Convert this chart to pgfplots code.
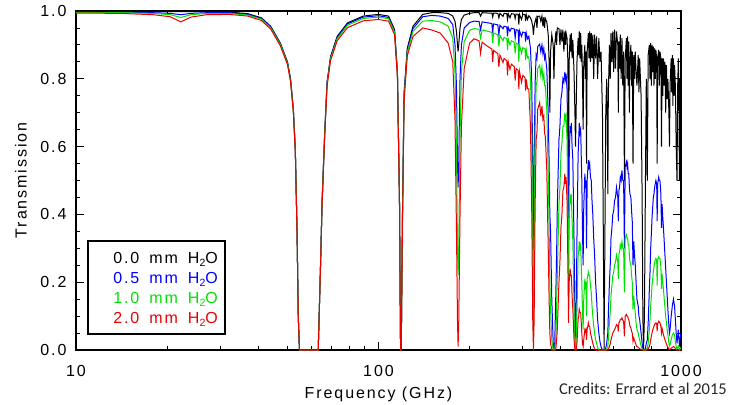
\documentclass[border=0pt]{standalone}
\usepackage{pgfplots}
\pgfplotsset{compat=1.18}
\usepackage{pgfplotstable}
\usepackage{fontspec}
\setmainfont{Liberation Sans}[LetterSpace=12]
\newfontfamily\credfont{Carlito}
\definecolor{cblue}{RGB}{0,0,255}
\definecolor{cgreen}{RGB}{0,225,0}
\definecolor{cred}{RGB}{235,0,0}
\newcommand{\htwoo}{H\raisebox{-3pt}{\fontsize{10.5}{10.5}\selectfont 2}O}
\begin{document}
\pgfplotstableread{
f a b g r
10 0.998 0.997 0.996 0.994
14 0.998 0.997 0.995 0.993
18 0.998 0.995 0.993 0.989
20.5 0.998 0.993 0.989 0.983
22.2 0.998 0.989 0.981 0.968
24 0.998 0.993 0.989 0.982
27 0.998 0.995 0.993 0.989
32 0.997 0.995 0.993 0.990
37 0.992 0.990 0.988 0.985
41 0.980 0.978 0.976 0.972
44 0.955 0.953 0.951 0.947
47.4 0.905 0.903 0.901 0.897
50 0.850 0.848 0.846 0.842
51.2 0.800 0.798 0.796 0.792
52.3 0.710 0.708 0.706 0.702
53.1 0.590 0.588 0.586 0.582
53.8 0.350 0.348 0.346 0.342
54.3 0.100 0.099 0.098 0.096
54.8 0 0 0 0
63.2 0 0 0 0
64.3 0.245 0.244 0.243 0.240
65.1 0.440 0.438 0.436 0.432
66.4 0.640 0.638 0.636 0.631
67.6 0.790 0.787 0.784 0.778
69.4 0.865 0.862 0.859 0.853
73 0.925 0.922 0.918 0.912
79 0.965 0.962 0.958 0.951
89 0.985 0.982 0.978 0.971
100 0.990 0.986 0.982 0.975
108 0.985 0.981 0.977 0.970
113 0.945 0.941 0.937 0.930
115.5 0.820 0.816 0.812 0.805
117.3 0.450 0.446 0.442 0.435
118.3 0 0 0 0
118.9 0 0 0 0
120 0.400 0.392 0.384 0.370
121.5 0.760 0.752 0.745 0.735
124.5 0.890 0.884 0.878 0.868
130 0.955 0.948 0.940 0.925
140 0.990 0.983 0.970 0.950
150 0.995 0.987 0.972 0.944
160 0.995 0.985 0.968 0.935
170 0.993 0.978 0.955 0.905
176 0.985 0.960 0.920 0.850
179 0.970 0.900 0.820 0.680
181 0.940 0.780 0.600 0.360
182.5 0.900 0.550 0.300 0.080
183.3 0.880 0.480 0.220 0.010
184.2 0.900 0.550 0.300 0.080
186 0.950 0.800 0.630 0.400
188 0.975 0.900 0.820 0.660
192 0.988 0.950 0.910 0.830
200 0.993 0.966 0.943 0.905
207 0.995 0.970 0.948 0.918
215 0.995 0.969 0.946 0.912
217.5 0.985 0.945 0.920 0.875
220 0.995 0.968 0.944 0.908
230 0.994 0.965 0.940 0.895
237 0.994 0.963 0.937 0.888
238.5 0.982 0.935 0.905 0.850
240 0.994 0.962 0.935 0.884
248 0.993 0.959 0.930 0.874
250 0.980 0.930 0.895 0.835
252 0.993 0.958 0.928 0.870
258 0.984 0.948 0.912 0.848
260 0.993 0.955 0.922 0.860
265.5 0.992 0.953 0.919 0.853
267 0.975 0.925 0.885 0.810
268.5 0.992 0.952 0.917 0.850
272 0.980 0.940 0.900 0.828
275 0.992 0.949 0.912 0.843
281 0.991 0.947 0.908 0.836
283 0.978 0.920 0.875 0.795
285 0.991 0.945 0.905 0.830
289.5 0.990 0.943 0.902 0.825
291 0.960 0.900 0.850 0.770
292.5 0.990 0.942 0.900 0.822
297 0.975 0.925 0.875 0.790
300 0.990 0.938 0.892 0.810
305 0.989 0.936 0.888 0.803
306.5 0.970 0.910 0.855 0.765
308 0.989 0.935 0.885 0.798
311 0.975 0.918 0.862 0.770
314 0.986 0.925 0.865 0.770
318 0.980 0.890 0.800 0.660
321 0.970 0.800 0.650 0.420
323.5 0.955 0.550 0.300 0.090
325.2 0.930 0.220 0.040 0.000
327 0.955 0.550 0.300 0.090
329.5 0.970 0.790 0.650 0.430
332 0.980 0.870 0.780 0.620
334 0.950 0.860 0.790 0.640
336 0.984 0.895 0.830 0.710
341 0.985 0.902 0.840 0.730
344 0.970 0.880 0.810 0.690
347 0.985 0.900 0.835 0.720
349.5 0.955 0.875 0.800 0.680
352 0.982 0.890 0.815 0.690
354 0.950 0.860 0.780 0.640
356 0.978 0.870 0.780 0.630
360 0.968 0.830 0.710 0.530
364 0.930 0.700 0.520 0.300
366.5 0.850 0.550 0.360 0.150
368.5 0.700 0.400 0.200 0.050
370.5 0.880 0.350 0.120 0.020
374 0.930 0.150 0.030 0.000
378 0.900 0.020 0.000 0.000
380.2 0.800 0.000 0.000 0.000
382.5 0.900 0.020 0.000 0.000
386 0.940 0.180 0.040 0.005
388 0.900 0.280 0.120 0.030
390 0.950 0.420 0.220 0.060
395 0.948 0.620 0.430 0.200
398 0.900 0.660 0.480 0.260
401 0.946 0.740 0.580 0.360
404 0.910 0.760 0.610 0.400
407 0.945 0.800 0.660 0.470
410 0.880 0.790 0.660 0.480
413 0.940 0.820 0.700 0.520
415 0.900 0.800 0.680 0.490
417 0.935 0.815 0.690 0.510
420 0.920 0.770 0.620 0.440
422.8 0.850 0.600 0.420 0.250
424.8 0.500 0.250 0.150 0.080
426.8 0.850 0.560 0.380 0.200
430 0.930 0.660 0.460 0.240
432 0.880 0.640 0.440 0.220
434 0.935 0.670 0.450 0.220
436.5 0.860 0.600 0.380 0.160
439 0.915 0.560 0.320 0.120
443 0.820 0.320 0.120 0.030
446 0.700 0.100 0.020 0.000
448 0.600 0.030 0.000 0.000
450 0.700 0.100 0.020 0.000
453 0.850 0.330 0.110 0.020
457 0.920 0.580 0.280 0.090
459 0.870 0.620 0.290 0.100
461 0.940 0.670 0.320 0.120
463.5 0.860 0.640 0.300 0.110
466 0.935 0.650 0.310 0.110
468 0.850 0.570 0.250 0.080
470 0.900 0.500 0.200 0.050
472.5 0.800 0.350 0.110 0.020
474.7 0.650 0.250 0.060 0.010
477 0.840 0.420 0.150 0.030
481 0.900 0.520 0.210 0.060
483 0.800 0.490 0.190 0.055
485 0.880 0.500 0.200 0.060
487.2 0.550 0.300 0.100 0.030
489.5 0.880 0.500 0.210 0.060
494 0.935 0.560 0.230 0.080
496.5 0.860 0.540 0.220 0.070
499 0.940 0.550 0.220 0.070
502 0.850 0.510 0.190 0.050
505 0.935 0.500 0.170 0.040
508 0.860 0.440 0.130 0.030
511 0.930 0.400 0.100 0.020
514.5 0.800 0.330 0.070 0.010
518 0.930 0.280 0.050 0.005
522 0.860 0.200 0.030 0.000
526 0.925 0.150 0.020 0.000
530 0.800 0.090 0.008 0.000
535 0.920 0.050 0.000 0.000
539.5 0.850 0.025 0.000 0.000
544 0.880 0.010 0.000 0.000
550 0.700 0.000 0.000 0.000
554 0.300 0 0 0
556.9 0 0 0 0
560 0.300 0 0 0
564 0.700 0.005 0 0
568 0.800 0.020 0.003 0
571 0.650 0.040 0.008 0
573 0.460 0.050 0.010 0
575 0.750 0.100 0.030 0.002
580 0.900 0.200 0.080 0.010
583.5 0.800 0.250 0.110 0.018
587 0.935 0.330 0.160 0.030
591 0.850 0.360 0.190 0.040
595 0.940 0.400 0.220 0.050
599 0.820 0.410 0.230 0.055
603 0.945 0.440 0.250 0.060
607.5 0.830 0.450 0.260 0.066
612 0.940 0.480 0.280 0.075
618 0.900 0.450 0.260 0.070
620.7 0.700 0.380 0.210 0.055
623 0.910 0.470 0.280 0.080
626.5 0.830 0.480 0.290 0.083
630 0.930 0.510 0.310 0.090
634 0.800 0.500 0.300 0.090
638 0.920 0.530 0.320 0.095
642 0.780 0.500 0.300 0.088
646 0.880 0.500 0.300 0.085
650 0.500 0.300 0.170 0.040
654 0.860 0.540 0.330 0.100
660 0.920 0.555 0.340 0.105
663 0.800 0.540 0.330 0.100
666 0.925 0.550 0.330 0.100
669 0.780 0.520 0.310 0.092
672 0.910 0.520 0.310 0.090
675 0.700 0.480 0.280 0.080
678 0.850 0.460 0.260 0.070
683 0.900 0.450 0.250 0.065
686.5 0.780 0.410 0.220 0.055
690 0.880 0.380 0.200 0.050
694 0.550 0.250 0.120 0.025
698 0.870 0.320 0.160 0.035
702 0.800 0.280 0.130 0.028
706 0.880 0.250 0.110 0.022
710.5 0.820 0.200 0.080 0.015
715 0.780 0.150 0.060 0.010
722 0.870 0.130 0.050 0.008
726 0.760 0.100 0.038 0.006
730 0.860 0.090 0.030 0.004
738 0.750 0.050 0.012 0.001
744 0.450 0.020 0.003 0
748 0.100 0.003 0 0
752 0 0 0 0
757 0.100 0 0 0
763 0.500 0.005 0 0
768 0.800 0.020 0.003 0
773.8 0.500 0.030 0.005 0
779 0.870 0.080 0.020 0.003
786 0.900 0.180 0.060 0.010
790 0.800 0.230 0.090 0.018
794 0.905 0.300 0.130 0.030
798 0.780 0.340 0.160 0.040
802 0.900 0.390 0.190 0.050
806 0.820 0.420 0.210 0.058
810 0.895 0.450 0.230 0.065
814 0.780 0.460 0.245 0.070
818 0.890 0.480 0.260 0.075
822 0.800 0.490 0.265 0.078
826 0.885 0.500 0.270 0.080
831 0.860 0.490 0.265 0.078
834 0.550 0.380 0.190 0.055
837 0.860 0.490 0.265 0.078
844 0.885 0.510 0.275 0.085
848 0.780 0.500 0.270 0.082
852 0.880 0.500 0.270 0.080
858 0.860 0.460 0.245 0.070
862 0.600 0.360 0.180 0.050
866 0.860 0.430 0.225 0.063
870.5 0.750 0.390 0.200 0.054
875 0.860 0.360 0.180 0.045
880 0.780 0.320 0.150 0.037
885 0.850 0.280 0.125 0.030
890 0.700 0.240 0.100 0.024
895 0.840 0.200 0.080 0.018
900 0.740 0.160 0.060 0.012
905 0.800 0.120 0.045 0.008
912 0.700 0.070 0.020 0.003
916 0.600 0.050 0.012 0.001
920 0.780 0.060 0.015 0.002
928 0.860 0.100 0.030 0.005
932 0.760 0.115 0.037 0.006
936 0.870 0.130 0.045 0.008
940 0.720 0.140 0.047 0.009
944 0.860 0.150 0.050 0.010
948 0.750 0.140 0.047 0.009
952 0.840 0.130 0.045 0.008
958 0.780 0.090 0.025 0.004
964 0.600 0.050 0.010 0.001
970 0.500 0.020 0.003 0
975 0.780 0.040 0.008 0
980 0.860 0.060 0.012 0
985 0.700 0.030 0.005 0
988 0.500 0.010 0 0
992 0.800 0.030 0.003 0
996 0.720 0.040 0.005 0
1000 0.870 0.050 0.008 0
}\spectrum
\begin{tikzpicture}
\useasboundingbox (-76pt,-54pt) rectangle (654pt,350pt);
\begin{axis}[
  scale only axis, width=605pt, height=339pt,
  xmode=log, xmin=10, xmax=1000, ymin=0, ymax=1,
  xtick={10,100,1000}, xticklabels={10,100,1000},
  minor xtick={20,30,40,50,60,70,80,90,200,300,400,500,600,700,800,900},
  ytick={0,0.2,0.4,0.6,0.8,1}, yticklabels={0.0,0.2,0.4,0.6,0.8,1.0},
  minor ytick={0.05,0.1,0.15,0.25,0.3,0.35,0.45,0.5,0.55,0.65,0.7,0.75,0.85,0.9,0.95},
  tick pos=both, tick align=inside,
  major tick length=8pt, minor tick length=4pt,
  axis line style={line width=1.2pt},
  every tick/.style={black, line width=0.8pt},
  tick label style={font=\fontsize{16}{16}\selectfont},
  xticklabel style={anchor=base, yshift=-26pt},
  yticklabel style={xshift=-6pt},
  xlabel={Frequency (GHz)}, ylabel={Transmission},
  label style={font=\fontsize{16}{16}\selectfont},
  xlabel style={at={(axis description cs:0.5,-0.1416)}, anchor=base},
  ylabel style={at={(axis description cs:-0.0909,0.5)}, anchor=center},
]
\addplot[black, line width=1pt] table[x=f,y=a] {\spectrum};
\addplot[cblue, line width=1pt] table[x=f,y=b] {\spectrum};
\addplot[cgreen, line width=1pt] table[x=f,y=g] {\spectrum};
\addplot[cred, line width=1pt] table[x=f,y=r] {\spectrum};
\draw[line width=1.3pt, fill=white] (rel axis cs:0.0198,0.0472) rectangle (rel axis cs:0.2463,0.3215);
\begin{scope}[every node/.style={anchor=base east, inner sep=0pt, font=\fontsize{16}{16}\selectfont}]
\node[text=black] at (rel axis cs:0.2347,0.2566) {0.0\hspace{10pt}mm\hspace{10pt}\htwoo};
\node[text=cblue] at (rel axis cs:0.2347,0.1976) {0.5\hspace{10pt}mm\hspace{10pt}\htwoo};
\node[text=cgreen] at (rel axis cs:0.2347,0.1386) {1.0\hspace{10pt}mm\hspace{10pt}\htwoo};
\node[text=cred] at (rel axis cs:0.2347,0.0796) {2.0\hspace{10pt}mm\hspace{10pt}\htwoo};
\end{scope}
\end{axis}
\node[anchor=base east, inner sep=0pt, text=black!85, font=\credfont\fontsize{16.5}{16.5}\selectfont] at (651pt,-44pt) {Credits: Errard et al 2015};
\end{tikzpicture}
\end{document}
